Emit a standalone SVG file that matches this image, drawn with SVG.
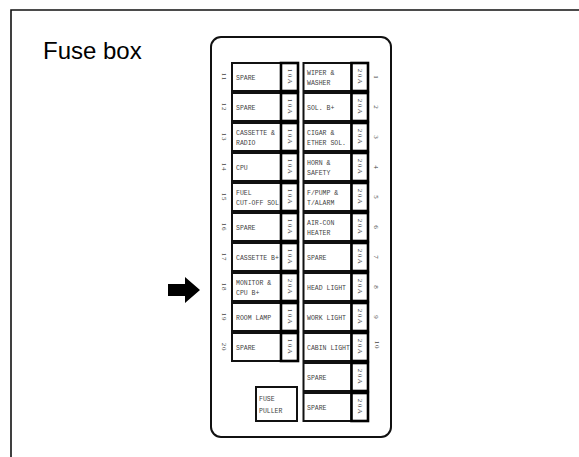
<svg xmlns="http://www.w3.org/2000/svg" width="579" height="457" viewBox="0 0 579 457">
<style>
.frame{fill:none;stroke:#111;stroke-width:1.6}
.housing{fill:#fff;stroke:#111;stroke-width:2}
.cell{fill:#fff;stroke:#111;stroke-width:2}
.amp{fill:#fff;stroke:#000;stroke-width:2.6}
.lbl{font-family:"Liberation Mono","DejaVu Sans Mono",monospace;font-size:6.5px;fill:#444}
.rot{font-family:"Liberation Serif","DejaVu Serif",serif;font-size:7px;fill:#444;text-anchor:middle;dominant-baseline:central}
.title{font-family:"Liberation Sans",Arial,sans-serif;font-size:24px;fill:#000}
</style>
<rect width="579" height="457" fill="#fff"/>
<path class="frame" d="M11,457 V10 H579"/>
<text class="title" x="43" y="59">Fuse box</text>
<g id="housing"><rect class="housing" x="211" y="37" width="180" height="400" rx="10"/></g>

<g id="f11"><rect class="cell" x="232" y="63" width="49" height="28"/><rect class="amp" x="281" y="63" width="17" height="28"/><text class="lbl" x="236" y="80">SPARE</text><text class="rot" transform="translate(289.5,77) rotate(90)" letter-spacing="1.5">10A</text><text class="rot" transform="translate(224,77) rotate(90)" letter-spacing="0.8">11</text></g>
<g id="f12"><rect class="cell" x="232" y="93" width="49" height="28"/><rect class="amp" x="281" y="93" width="17" height="28"/><text class="lbl" x="236" y="110">SPARE</text><text class="rot" transform="translate(289.5,107) rotate(90)" letter-spacing="1.5">10A</text><text class="rot" transform="translate(224,107) rotate(90)" letter-spacing="0.8">12</text></g>
<g id="f13"><rect class="cell" x="232" y="123" width="49" height="28"/><rect class="amp" x="281" y="123" width="17" height="28"/><text class="lbl" x="236" y="135">CASSETTE &amp;</text><text class="lbl" x="236" y="145">RADIO</text><text class="rot" transform="translate(289.5,137) rotate(90)" letter-spacing="1.5">10A</text><text class="rot" transform="translate(224,137) rotate(90)" letter-spacing="0.8">13</text></g>
<g id="f14"><rect class="cell" x="232" y="153" width="49" height="28"/><rect class="amp" x="281" y="153" width="17" height="28"/><text class="lbl" x="236" y="170">CPU</text><text class="rot" transform="translate(289.5,167) rotate(90)" letter-spacing="1.5">10A</text><text class="rot" transform="translate(224,167) rotate(90)" letter-spacing="0.8">14</text></g>
<g id="f15"><rect class="cell" x="232" y="183" width="49" height="28"/><rect class="amp" x="281" y="183" width="17" height="28"/><text class="lbl" x="236" y="195">FUEL</text><text class="lbl" x="236" y="205">CUT-OFF SOL</text><text class="rot" transform="translate(289.5,197) rotate(90)" letter-spacing="1.5">10A</text><text class="rot" transform="translate(224,197) rotate(90)" letter-spacing="0.8">15</text></g>
<g id="f16"><rect class="cell" x="232" y="213" width="49" height="28"/><rect class="amp" x="281" y="213" width="17" height="28"/><text class="lbl" x="236" y="230">SPARE</text><text class="rot" transform="translate(289.5,227) rotate(90)" letter-spacing="1.5">10A</text><text class="rot" transform="translate(224,227) rotate(90)" letter-spacing="0.8">16</text></g>
<g id="f17"><rect class="cell" x="232" y="243" width="49" height="28"/><rect class="amp" x="281" y="243" width="17" height="28"/><text class="lbl" x="236" y="260">CASSETTE B+</text><text class="rot" transform="translate(289.5,257) rotate(90)" letter-spacing="1.5">10A</text><text class="rot" transform="translate(224,257) rotate(90)" letter-spacing="0.8">17</text></g>
<g id="f18"><rect class="cell" x="232" y="273" width="49" height="28"/><rect class="amp" x="281" y="273" width="17" height="28"/><text class="lbl" x="236" y="285">MONITOR &amp;</text><text class="lbl" x="236" y="295">CPU B+</text><text class="rot" transform="translate(289.5,287) rotate(90)" letter-spacing="1.5">20A</text><text class="rot" transform="translate(224,287) rotate(90)" letter-spacing="0.8">18</text></g>
<g id="f19"><rect class="cell" x="232" y="303" width="49" height="28"/><rect class="amp" x="281" y="303" width="17" height="28"/><text class="lbl" x="236" y="320">ROOM LAMP</text><text class="rot" transform="translate(289.5,317) rotate(90)" letter-spacing="1.5">10A</text><text class="rot" transform="translate(224,317) rotate(90)" letter-spacing="0.8">19</text></g>
<g id="f20"><rect class="cell" x="232" y="333" width="49" height="28"/><rect class="amp" x="281" y="333" width="17" height="28"/><text class="lbl" x="236" y="350">SPARE</text><text class="rot" transform="translate(289.5,347) rotate(90)" letter-spacing="1.5">10A</text><text class="rot" transform="translate(224,347) rotate(90)" letter-spacing="0.8">20</text></g>

<g id="f1"><rect class="cell" x="303.5" y="63" width="48" height="28"/><rect class="amp" x="351.5" y="63" width="16.5" height="28"/><text class="lbl" x="307" y="75">WIPER &amp;</text><text class="lbl" x="307" y="85">WASHER</text><text class="rot" transform="translate(359.75,77) rotate(90)" letter-spacing="1.5">20A</text><text class="rot" transform="translate(376,77) rotate(90)">1</text></g>
<g id="f2"><rect class="cell" x="303.5" y="93" width="48" height="28"/><rect class="amp" x="351.5" y="93" width="16.5" height="28"/><text class="lbl" x="307" y="110">SOL. B+</text><text class="rot" transform="translate(359.75,107) rotate(90)" letter-spacing="1.5">20A</text><text class="rot" transform="translate(376,107) rotate(90)">2</text></g>
<g id="f3"><rect class="cell" x="303.5" y="123" width="48" height="28"/><rect class="amp" x="351.5" y="123" width="16.5" height="28"/><text class="lbl" x="307" y="135">CIGAR &amp;</text><text class="lbl" x="307" y="145">ETHER SOL.</text><text class="rot" transform="translate(359.75,137) rotate(90)" letter-spacing="1.5">20A</text><text class="rot" transform="translate(376,137) rotate(90)">3</text></g>
<g id="f4"><rect class="cell" x="303.5" y="153" width="48" height="28"/><rect class="amp" x="351.5" y="153" width="16.5" height="28"/><text class="lbl" x="307" y="165">HORN &amp;</text><text class="lbl" x="307" y="175">SAFETY</text><text class="rot" transform="translate(359.75,167) rotate(90)" letter-spacing="1.5">20A</text><text class="rot" transform="translate(376,167) rotate(90)">4</text></g>
<g id="f5"><rect class="cell" x="303.5" y="183" width="48" height="28"/><rect class="amp" x="351.5" y="183" width="16.5" height="28"/><text class="lbl" x="307" y="195">F/PUMP &amp;</text><text class="lbl" x="307" y="205">T/ALARM</text><text class="rot" transform="translate(359.75,197) rotate(90)" letter-spacing="1.5">20A</text><text class="rot" transform="translate(376,197) rotate(90)">5</text></g>
<g id="f6"><rect class="cell" x="303.5" y="213" width="48" height="28"/><rect class="amp" x="351.5" y="213" width="16.5" height="28"/><text class="lbl" x="307" y="225">AIR-CON</text><text class="lbl" x="307" y="235">HEATER</text><text class="rot" transform="translate(359.75,227) rotate(90)" letter-spacing="1.5">20A</text><text class="rot" transform="translate(376,227) rotate(90)">6</text></g>
<g id="f7"><rect class="cell" x="303.5" y="243" width="48" height="28"/><rect class="amp" x="351.5" y="243" width="16.5" height="28"/><text class="lbl" x="307" y="260">SPARE</text><text class="rot" transform="translate(359.75,257) rotate(90)" letter-spacing="1.5">20A</text><text class="rot" transform="translate(376,257) rotate(90)">7</text></g>
<g id="f8"><rect class="cell" x="303.5" y="273" width="48" height="28"/><rect class="amp" x="351.5" y="273" width="16.5" height="28"/><text class="lbl" x="307" y="290">HEAD LIGHT</text><text class="rot" transform="translate(359.75,287) rotate(90)" letter-spacing="1.5">20A</text><text class="rot" transform="translate(376,287) rotate(90)">8</text></g>
<g id="f9"><rect class="cell" x="303.5" y="303" width="48" height="28"/><rect class="amp" x="351.5" y="303" width="16.5" height="28"/><text class="lbl" x="307" y="320">WORK LIGHT</text><text class="rot" transform="translate(359.75,317) rotate(90)" letter-spacing="1.5">20A</text><text class="rot" transform="translate(376,317) rotate(90)">9</text></g>
<g id="f10"><rect class="cell" x="303.5" y="333" width="48" height="28"/><rect class="amp" x="351.5" y="333" width="16.5" height="28"/><text class="lbl" x="307" y="350">CABIN LIGHT</text><text class="rot" transform="translate(359.75,347) rotate(90)" letter-spacing="1.5">20A</text><text class="rot" transform="translate(377,345) rotate(90)" letter-spacing="0.8">10</text></g>
<g id="spareA"><rect class="cell" x="303.5" y="363" width="48" height="28"/><rect class="amp" x="351.5" y="363" width="16.5" height="28"/><text class="lbl" x="307" y="380">SPARE</text><text class="rot" transform="translate(359.75,377) rotate(90)" letter-spacing="1.5">20A</text></g>
<g id="spareB"><rect class="cell" x="303.5" y="393" width="48" height="28"/><rect class="amp" x="351.5" y="393" width="16.5" height="28"/><text class="lbl" x="307" y="410">SPARE</text><text class="rot" transform="translate(359.75,407) rotate(90)" letter-spacing="1.5">20A</text></g>

<g id="puller"><rect class="cell" x="256" y="387" width="41" height="34"/><text class="lbl" x="259" y="401">FUSE</text><text class="lbl" x="259" y="413">PULLER</text></g>

<g id="arrow"><polygon points="168,284 185,284 185,277 200,290 185,303 185,296 168,296" fill="#000"/></g>
</svg>
